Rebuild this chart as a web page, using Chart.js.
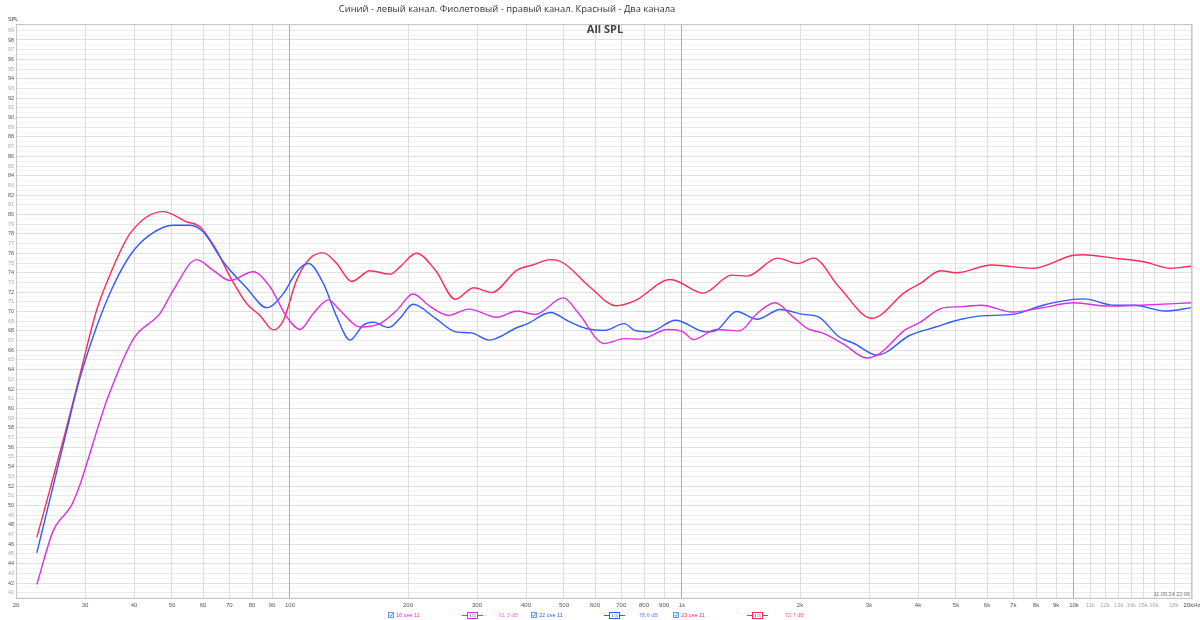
<!DOCTYPE html>
<html><head><meta charset="utf-8">
<script src="https://cdn.jsdelivr.net/npm/chart.js@4.4.1/dist/chart.umd.min.js"></script>
<style>html,body{margin:0;padding:0;background:#fff}#wrap{width:1200px;height:620px;position:relative}</style>
</head><body><div id="wrap"><canvas id="c"></canvas></div>
<script>
// Right channel (violet) - "16 сен 11"
const freqRight = [22.6,24.9,27.7,29.1,30.3,32.8,34.1,39.9,46.6,50.4,57.8,63.7,70.3,80.6,88.9,98.1,106.1,114.7,125.3,134.2,150.8,169.7,187,206,228,254,286,337,380,422,498,545,633,713,781,920,1007,1069,1224,1400,1555,1726,1919,2098,2296,2589,2960,3191,3708,4057,4574,5152,5808,6957,8332,9973,12300,14730,20000];
const splRight  = [41.85,47.4,50.0,52.1,54.3,58.8,60.85,67.2,69.8,72.2,75.35,74.25,73.2,74.1,72.55,69.45,68.15,69.8,71.2,70.1,68.4,68.75,70.1,71.8,70.5,69.6,70.25,69.4,70.05,69.7,71.4,69.8,66.7,67.2,67.15,68.15,67.9,67.1,68.15,68.0,69.8,70.9,69.45,68.2,67.75,66.6,65.2,65.65,68.1,68.9,70.3,70.5,70.65,69.95,70.4,70.9,70.55,70.65,70.9];
// Left channel (blue) - "22 сен 11"
const freqLeft = [22.6,24.4,26.8,29,32.1,35,39.1,43.9,50.4,55.6,60.1,67.6,77.6,87.2,96.2,104,111.4,121.6,131.6,142.3,153.8,163,178.6,190.8,206,235,265,290,322,380,404,462,513,570,633,713,757,828,962,1152,1224,1379,1555,1780,2038,2229,2513,2749,3145,3820,4438,5152,5808,6957,8332,9973,10600,12670,14240,17100,20000];
const splLeft  = [45.1,50.6,57.35,62.9,68.4,72.2,75.8,77.9,78.9,78.9,78.2,75.1,72.4,70.4,71.85,74.1,74.95,72.9,69.45,67.05,68.6,68.9,68.35,69.3,70.75,69.3,67.9,67.8,67.05,68.35,68.75,69.9,69.0,68.25,68.05,68.75,68.05,67.9,69.1,67.9,68.05,70.0,69.2,70.2,69.7,69.45,67.4,66.7,65.5,67.55,68.4,69.2,69.55,69.7,70.65,71.25,71.3,70.65,70.65,70.05,70.4];
// Both channels (red) - "23 сен 11"
const freqBoth = [22.6,24.4,26.7,29,32.1,35,39.1,47.5,54.5,58.9,65,70.3,77.6,83.8,90.7,96.2,104,112.5,121.6,131.6,143.7,160,180,190.8,210,235,264,294,327,380,416,462,498,587,678,757,934,1135,1339,1465,1754,1977,2163,2513,3052,3708,4057,4574,5003,6166,7843,9973,10500,12670,15170,17630,20000];
const splBoth  = [46.7,51.6,57.5,63.2,70.1,74.1,78.05,80.3,79.25,78.75,76.3,73.6,70.8,69.6,68.1,69.1,73.25,75.5,76.05,74.95,73.1,74.2,73.85,74.6,76.0,74.25,71.25,72.45,71.95,74.3,74.8,75.35,75.0,72.4,70.6,71.1,73.3,71.9,73.75,73.65,75.5,74.95,75.5,72.55,69.3,72.0,72.9,74.2,74.0,74.8,74.45,75.8,75.85,75.5,75.1,74.45,74.7];

const xTickValues = [20,30,40,50,60,70,80,90,100,200,300,400,500,600,700,800,900,1000,2000,3000,4000,5000,6000,7000,8000,9000,10000,11000,12000,13000,14000,15000,16000,18000,20000];
const xTickLabels = ['20','30','40','50','60','70','80','90','100','200','300','400','500','600','700','800','900','1k','2k','3k','4k','5k','6k','7k','8k','9k','10k','11k','12k','13k','14k','15k','16k','18k','20kHz'];
const legendDates = ['16 сен 11','22 сен 11','23 сен 11'];
const legendLevels = ['61,3 dB','78,6 dB','72,7 dB'];
const titleText = 'Синий - левый канал. Фиолетовый - правый канал. Красный - Два канала';
const subTitle = 'All SPL';
const stampText = '11.09.24 22:06';

const C_RED = '#ff2a55', C_BLUE = '#2f5bff', C_MAG = '#dc2fe0';
const pts = (f, v) => f.map((x, i) => ({x: x, y: v[i]}));

const yTicks = [];
for (let v = 40.5; v <= 99.5; v += 0.5) yTicks.push(v);

function fitFont(c, text, weight, family, targetW, base) {
  c.font = weight + ' ' + base + 'px ' + family;
  const w = c.measureText(text).width;
  const size = base * targetW / w;
  c.font = weight + ' ' + size.toFixed(2) + 'px ' + family;
}

const deco = {
  id: 'deco',
  beforeDraw(chart) {
    const c = chart.ctx; c.save(); c.fillStyle = '#fff'; c.fillRect(0, 0, chart.width, chart.height); c.restore();
  },
  afterDraw(chart) {
    const c = chart.ctx, a = chart.chartArea;
    c.save();
    c.strokeStyle = '#c8c8c8'; c.lineWidth = 1;
    c.strokeRect(a.left + 0.5, a.top + 0.5, a.right - a.left - 1, a.bottom - a.top - 1);
    c.textBaseline = 'middle';
    c.fillStyle = '#333'; c.textAlign = 'center';
    fitFont(c, titleText, 'normal', '"Open Sans"', 337, 11);
    c.fillText(titleText, 507, 9);
    c.font = 'bold 11px "Open Sans"'; c.fillStyle = '#444';
    c.fillText(subTitle, 605, 30);
    c.font = '5.5px "Liberation Sans"'; c.fillStyle = '#444'; c.textAlign = 'left';
    c.fillText('SPL', 8, 19);
    c.fillStyle = '#777'; c.textAlign = 'right';
    c.fillText(stampText, 1190, 594);
    // legend
    const ly = 615;
    const items = [
      {cb: 388, txt: 396, box: 462, lvl: 499, col: C_MAG, lcol: '#e070e8'},
      {cb: 531, txt: 539, box: 604, lvl: 639, col: C_BLUE, lcol: '#6b86ff'},
      {cb: 673, txt: 681, box: 747, lvl: 785, col: C_RED, lcol: '#ff5a78'}
    ];
    items.forEach((it, i) => {
      c.strokeStyle = '#4a86e8'; c.lineWidth = 0.8; c.fillStyle = '#eef4ff';
      c.fillRect(it.cb, ly - 3, 6, 6); c.strokeRect(it.cb + 0.5, ly - 2.5, 5, 5);
      c.beginPath(); c.moveTo(it.cb + 1.5, ly); c.lineTo(it.cb + 2.8, ly + 1.5); c.lineTo(it.cb + 4.8, ly - 1.8); c.stroke();
      c.fillStyle = it.col; c.font = '5.5px "Liberation Sans"'; c.textAlign = 'left';
      c.fillText(legendDates[i], it.txt, ly);
      c.strokeStyle = it.col; c.lineWidth = 1;
      c.beginPath(); c.moveTo(it.box, ly + 0.5); c.lineTo(it.box + 21, ly + 0.5); c.stroke();
      c.fillStyle = '#fff'; c.fillRect(it.box + 5, ly - 3, 11, 7);
      c.strokeRect(it.box + 5.5, ly - 2.5, 10, 6);
      c.fillStyle = '#333'; c.font = '5px "Liberation Serif"'; c.textAlign = 'center';
      c.fillText('1/3', it.box + 10.5, ly + 0.5);
      c.fillStyle = it.lcol; c.font = '5.5px "Liberation Sans"'; c.textAlign = 'left';
      c.fillText(legendLevels[i], it.lvl, ly);
    });
    c.restore();
  }
};

const ds = (label, f, v, col) => ({
  label, data: pts(f, v), borderColor: col, backgroundColor: col, borderWidth: 1.4,
  pointRadius: 0, fill: false, cubicInterpolationMode: 'monotone', tension: 0.4
});

new Chart(document.getElementById('c'), {
  type: 'line',
  data: { datasets: [
    ds(legendDates[0], freqRight, splRight, C_MAG),
    ds(legendDates[1], freqLeft, splLeft, C_BLUE),
    ds(legendDates[2], freqBoth, splBoth, C_RED)
  ]},
  options: {
    responsive: true, maintainAspectRatio: false, animation: false,
    layout: { padding: { top: 24, right: 8, left: 0, bottom: 0 } },
    plugins: { legend: { display: false }, tooltip: { enabled: false }, title: { display: false } },
    scales: {
      x: {
        type: 'logarithmic', min: 20, max: 20000,
        afterBuildTicks(s) { s.ticks = xTickValues.map(v => ({ value: v })); },
        afterFit(s) { s.height = 21; s.paddingLeft = 0; s.paddingRight = 0; },
        border: { display: false },
        grid: {
          drawTicks: false, z: 0,
          color(ctx) { const v = ctx.tick && ctx.tick.value; return (v === 100 || v === 1000 || v === 10000) ? '#ababab' : '#dedede'; },
          lineWidth: 1
        },
        ticks: {
          autoSkip: false, maxRotation: 0, padding: 3,
          font: { size: 6, family: 'Liberation Sans' },
          color(ctx) { const v = ctx.tick && ctx.tick.value; return (v > 10000 && v < 20000) ? '#aaa' : '#555'; },
          callback(value, index) { const k = xTickValues.indexOf(value); return k >= 0 ? xTickLabels[k] : ''; }
        }
      },
      y: {
        type: 'linear', min: 40.35, max: 99.65,
        afterBuildTicks(s) { s.ticks = yTicks.map(v => ({ value: v })); },
        afterFit(s) { s.width = 16; s.paddingTop = 0; s.paddingBottom = 0; },
        border: { display: false },
        grid: {
          drawTicks: false,
          color(ctx) {
            const v = ctx.tick && ctx.tick.value;
            if (v % 1 !== 0) return '#f4f4f4';
            return (v % 2 === 0) ? '#dfdfdf' : '#eaeaea';
          }
        },
        ticks: {
          autoSkip: false, padding: 2,
          font: { size: 5.5, family: 'Liberation Sans' },
          color(ctx) { const v = ctx.tick && ctx.tick.value; return (v % 2 === 0) ? '#555' : '#aaa'; },
          callback(value) { return value % 1 === 0 ? String(value) : ''; }
        }
      }
    }
  },
  plugins: [deco]
});
</script>
</body></html>
